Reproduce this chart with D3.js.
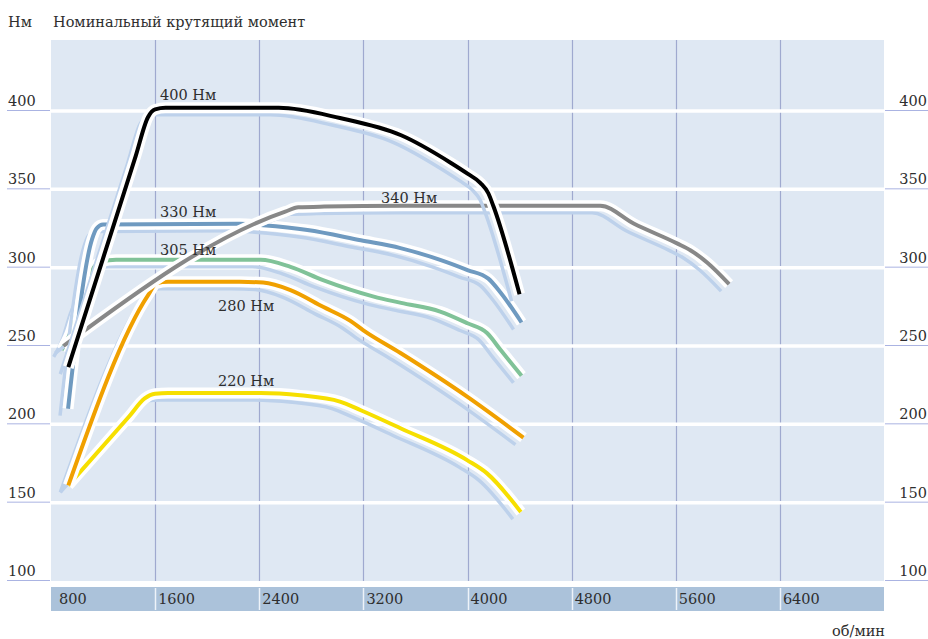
<!DOCTYPE html>
<html><head><meta charset="utf-8">
<script src="https://cdn.jsdelivr.net/npm/d3@7"></script>
<style>
body{margin:0;background:#fff}
svg{display:block}
text{font-family:"DejaVu Serif",serif;fill:#2e2e2e;font-size:14.5px}
</style>
</head><body><svg id="c" width="928" height="639"></svg>
<script>
// ---- data ----
const rpmTicks = [800, 1600, 2400, 3200, 4000, 4800, 5600, 6400];
const torqueTicks = [100, 150, 200, 250, 300, 350, 400];
const titleUnit = "Нм";
const titleText = "Номинальный крутящий момент";
const xUnit = "об/мин";

const yellowLabel = "220 Нм";
const yellowRpm = [933, 1400, 1520, 1600, 1700, 2410, 2715, 3020, 3180, 3485, 4000, 4150, 4410];
const yellowNm  = [161, 205, 216.5, 219.5, 220, 220, 218.5, 214.5, 209, 197.5, 177, 168.7, 144];

const orangeLabel = "280 Нм";
const orangeRpm = [933, 1550, 1610, 1700, 2250, 2430, 2640, 2890, 3100, 3200, 3485, 4000, 4430];
const orangeNm  = [161, 283, 290, 291, 291, 290.5, 285.7, 275, 266, 260, 245.5, 217.5, 191.5];

const greenLabel = "305 Нм";
const greenRpm = [882, 946, 1010, 1062, 1113, 1190, 1300, 2410, 2640, 2890, 3280, 3490, 3790, 4000, 4150, 4255, 4415];
const greenNm  = [247.5, 258, 275, 285.5, 298, 304, 305, 305, 300.5, 292, 281.5, 277.5, 272, 264.5, 258.3, 247.4, 231];

const blueLabel = "330 Нм";
const blueRpm = [931, 1115, 1150, 1200, 2250, 2430, 2770, 3180, 3485, 3790, 4000, 4160, 4255, 4415];
const blueNm  = [210, 318, 325, 327.5, 328, 327, 324, 317.5, 312.5, 305, 298.5, 293, 284, 265];

const greyLabel = "340 Нм";
const greyRpm = [895, 2600, 2700, 2900, 3500, 5020, 5280, 5610, 5715, 5845, 6010];
const greyNm  = [250, 335.8, 338.5, 339, 339.5, 339.5, 328, 315.5, 311, 303, 289.5];

const blackLabel = "400 Нм";
const blackRpm = [933, 1200, 1450, 1545, 1600, 1680, 2550, 3020, 3490, 3870, 4000, 4100, 4160, 4200, 4400];
const blackNm  = [236.5, 306, 371, 396, 401, 402, 402, 395.5, 384.5, 367, 360, 354, 347.5, 339, 283];

// ---- layout ----
const svg = d3.select("#c");
const L = 51, R = 884, T = 40, B = 581;
const x = d3.scaleLinear().domain([800, 7200]).range([L, R]);
const y = d3.scaleLinear().domain([100, 400]).range([B, 111]);

// plot background
svg.append("rect").attr("x", L).attr("y", T).attr("width", R - L).attr("height", B - T).attr("fill", "#dfe8f3");

// vertical grid
svg.append("g").selectAll("line").data(rpmTicks.slice(1)).join("line")
  .attr("x1", d => Math.round(x(d)) + 0.5).attr("x2", d => Math.round(x(d)) + 0.5)
  .attr("y1", T).attr("y2", B).attr("stroke", "#9fa9cf").attr("stroke-width", 1.2);

// horizontal white grid
svg.append("g").selectAll("line").data(torqueTicks.slice(1)).join("line")
  .attr("x1", L).attr("x2", R).attr("y1", d => y(d)).attr("y2", d => y(d))
  .attr("stroke", "#fff").attr("stroke-width", 3.5);

// tick underlines + labels left/right
const tg = svg.append("g");
tg.selectAll("line.l").data(torqueTicks).join("line").attr("class", "l")
  .attr("x1", 7).attr("x2", L - 1).attr("y1", d => y(d) - 0.5).attr("y2", d => y(d) - 0.5)
  .attr("stroke", "#aab3e2").attr("stroke-width", 1);
tg.selectAll("line.r").data(torqueTicks).join("line").attr("class", "r")
  .attr("x1", R + 1).attr("x2", 928).attr("y1", d => y(d) - 0.5).attr("y2", d => y(d) - 0.5)
  .attr("stroke", "#aab3e2").attr("stroke-width", 1);
tg.selectAll("text.l").data(torqueTicks).join("text").attr("class", "l")
  .attr("x", 8).attr("y", d => y(d) - 5).text(d => d);
tg.selectAll("text.r").data(torqueTicks).join("text").attr("class", "r")
  .attr("x", 927).attr("y", d => y(d) - 5).attr("text-anchor", "end").text(d => d);

// x axis band
svg.append("rect").attr("x", L).attr("y", 587).attr("width", R - L).attr("height", 24).attr("fill", "#abc2da");
svg.append("g").selectAll("line").data(rpmTicks.slice(1)).join("line")
  .attr("x1", d => Math.round(x(d)) + 0.5).attr("x2", d => Math.round(x(d)) + 0.5)
  .attr("y1", 588).attr("y2", 610).attr("stroke", "#eef3f9").attr("stroke-width", 1.5);
svg.append("g").selectAll("text").data(rpmTicks).join("text")
  .attr("x", d => Math.max(x(d) + 3, L + 8)).attr("y", 604).text(d => d);

// titles
svg.append("text").attr("x", 8).attr("y", 27).text(titleUnit);
svg.append("text").attr("x", 53).attr("y", 27).text(titleText);
svg.append("text").attr("x", 885).attr("y", 636).attr("text-anchor", "end").text(xUnit);

// ---- curves ----
const line = d3.line().x(d => x(d[0])).y(d => y(d[1])).curve(d3.curveMonotoneX);
const series = [
  {rpm: yellowRpm, nm: yellowNm, color: "#f6df00"},
  {rpm: orangeRpm, nm: orangeNm, color: "#f0a000"},
  {rpm: greenRpm,  nm: greenNm,  color: "#80c298"},
  {rpm: blueRpm,   nm: blueNm,   color: "#6f9ac0"},
  {rpm: greyRpm,   nm: greyNm,   color: "#888888"},
  {rpm: blackRpm,  nm: blackNm,  color: "#000000"}
];
const cg = svg.append("g");
series.forEach(s => {
  const pts = s.rpm.map((r, i) => [r, s.nm[i]]);
  const d = line(pts);
  const g = cg.append("g");
  g.append("path").attr("d", d).attr("fill", "none").attr("stroke", "#bdd1eb")
    .attr("stroke-width", 3.5).attr("transform", "translate(-8,7)").attr("stroke-linejoin", "round");
  g.append("path").attr("d", d).attr("fill", "none").attr("stroke", "#fff")
    .attr("stroke-width", 11).attr("stroke-linejoin", "round");
  g.append("path").attr("d", d).attr("fill", "none").attr("stroke", s.color)
    .attr("stroke-width", 4).attr("stroke-linejoin", "round");
});

// series labels
const labels = [
  [blackLabel, 160, 100], [blueLabel, 160, 217], [greenLabel, 160, 255],
  [orangeLabel, 218, 311], [yellowLabel, 218, 386], [greyLabel, 381, 203]
];
svg.append("g").selectAll("text").data(labels).join("text")
  .attr("x", d => d[1]).attr("y", d => d[2]).text(d => d[0]);
</script>
</body></html>
